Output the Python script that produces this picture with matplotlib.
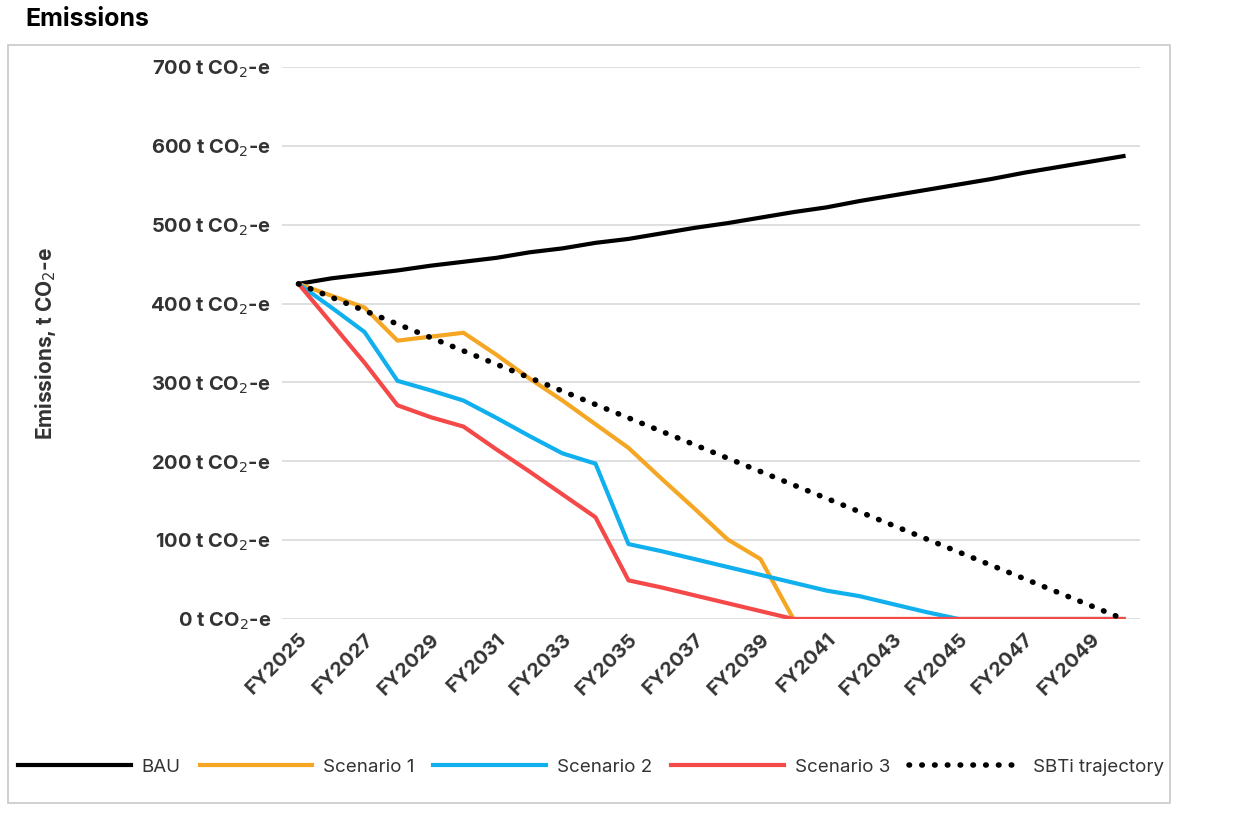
import matplotlib
matplotlib.use("Agg")
import matplotlib.pyplot as plt
from matplotlib.patches import Rectangle

plt.rcParams['font.family'] = ['Inter', 'DejaVu Sans']

years = list(range(2025, 2051))
bau = [425,432,437,442,448,453,458,465,470,477,482,489,496,502,509,516,522,530,537,544,551,558,566,573,580,587]
s1 = [425,410,395,353,358,363,335,305,277,247,217,178,140,101,76,0,0,0,0,0,0,0,0,0,0,0]
s2 = [425,395,364,302,290,277,255,232,210,197,95,86,76,66,56,46,36,29,19,9,0,0,0,0,0,0]
s3 = [425,375,325,271,256,244,215,187,158,129,49,40,30,20,10,0,0,0,0,0,0,0,0,0,0,0]
sbti = [425,408,391,374,357,340,323,306,289,272,255,238,221,204,187,170,153,136,119,102,85,68,51,34,17,0]
yticks = [0,100,200,300,400,500,600,700]
xticks = list(range(2025, 2050, 2))

fig = plt.figure(figsize=(12.33, 8.13), dpi=100)
fig.patches.append(Rectangle((8/1233, 1-803/813), (1170-8)/1233, (803-45)/813,
                             transform=fig.transFigure, fill=False, edgecolor='#c8c8c8', lw=1.2))
fig.text(25/1233, 1-20/813, "Emissions", fontsize=18, fontweight='bold', va='center')
ax = fig.add_axes([282/1233, 1-619/813, (1140-282)/1233, (619-67)/813])

ax.plot(years, bau, color='black', lw=3, label='BAU')
ax.plot(years, s1, color='#f5a623', lw=3, label='Scenario 1')
ax.plot(years, s2, color='#10b0ee', lw=3, label='Scenario 2')
ax.plot(years, s3, color='#f54848', lw=3, label='Scenario 3')
ax.plot(years, sbti, color='black', lw=4, ls=(0, (0.1, 2.2)), dash_capstyle='round', label='SBTi trajectory')

ax.set_xlim(2024.5, 2050.5)
ax.set_ylim(0, 700)
ax.set_yticks(yticks)
ax.set_yticklabels([f"{v} t CO$_2$-e" for v in yticks], fontsize=14.5, fontweight='bold', color='#333333')
ax.set_xticks(xticks)
ax.set_xticklabels([f"FY{y}" for y in xticks], rotation=45, ha='right', rotation_mode='anchor',
                   fontsize=14.5, fontweight='bold', color='#333333')
ax.tick_params(length=0, pad=8)
ax.grid(axis='y', color='#d9d9d9', lw=1.2)
ax.set_axisbelow(True)
for s in ax.spines.values():
    s.set_visible(False)
ax.set_ylabel("Emissions, t CO$_2$-e", fontsize=15, fontweight='bold', color='#333333')
ax.yaxis.set_label_coords((58-282)/(1140-282), 0.5)
ax.legend(loc='center', bbox_to_anchor=(0.36, (619-767)/552), ncol=5, frameon=False,
          fontsize=13.5, handlelength=6, columnspacing=1.0, handletextpad=0.6, labelcolor='#333333')
fig.savefig("out.png", dpi=100)
